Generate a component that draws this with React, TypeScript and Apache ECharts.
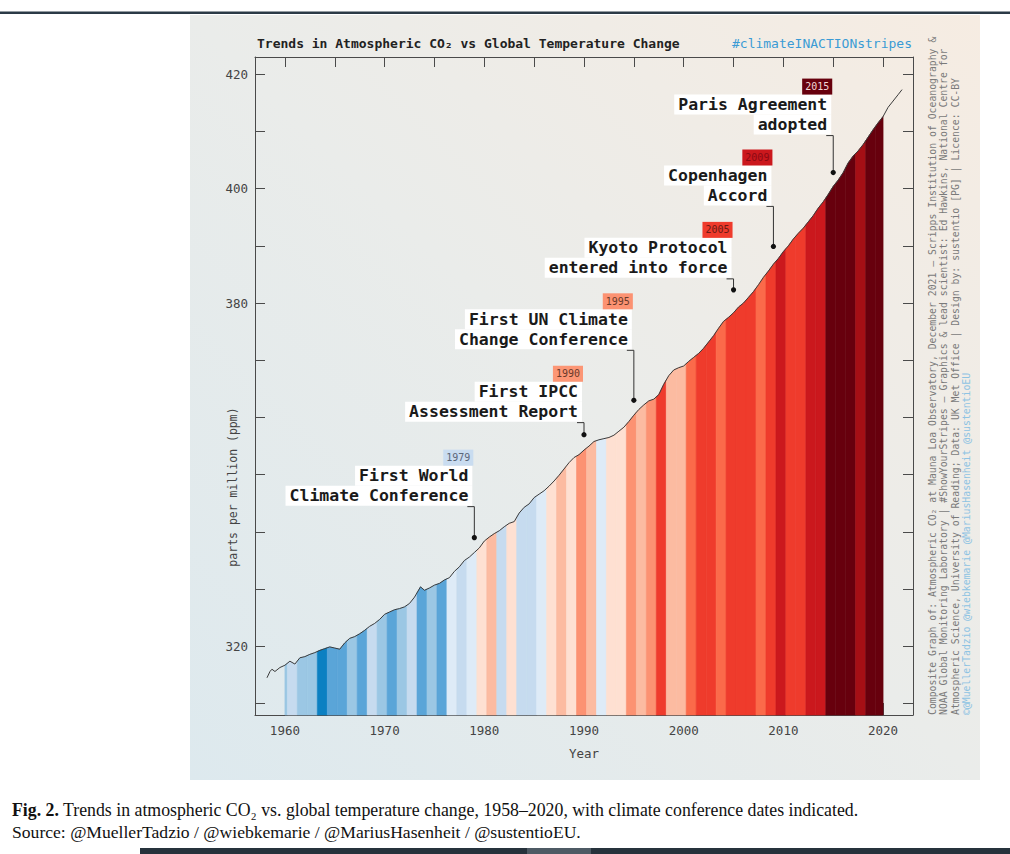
import React, { useEffect, useRef } from "react";
import * as echarts from "echarts";

// ---------- DATA ----------
const co2Time = [
  1958.2, 1958.5, 1958.7, 1959.0, 1959.5, 1960.0, 1960.5, 1961.0, 1961.5, 1962.0, 1962.5,
  1963.0, 1963.5, 1964.0, 1964.5, 1965.0, 1965.5, 1966.0, 1966.5, 1967.0, 1967.5, 1968.0,
  1968.5, 1969.0, 1969.5, 1970.0, 1970.5, 1971.0, 1971.5, 1972.0, 1972.5, 1973.0, 1973.6,
  1974.0, 1974.5, 1975.0, 1975.5, 1976.0, 1976.5, 1977.0, 1977.5, 1978.0, 1978.5, 1979.0,
  1979.5, 1980.0, 1980.5, 1981.0, 1981.5, 1982.0, 1982.5, 1983.0, 1983.5, 1984.0, 1984.5,
  1985.0, 1985.5, 1986.0, 1986.5, 1987.0, 1987.5, 1988.0, 1988.5, 1989.0, 1989.5, 1990.0,
  1990.5, 1991.0, 1991.5, 1992.0, 1992.5, 1993.0, 1993.5, 1994.0, 1994.5, 1995.0, 1995.5,
  1996.0, 1996.5, 1997.0, 1997.5, 1998.0, 1998.5, 1999.0, 1999.5, 2000.0, 2000.5, 2001.0,
  2001.5, 2002.0, 2002.5, 2003.0, 2003.5, 2004.0, 2004.5, 2005.0, 2005.5, 2006.0, 2006.5,
  2007.0, 2007.5, 2008.0, 2008.5, 2009.0, 2009.5, 2010.0, 2010.5, 2011.0, 2011.5, 2012.0,
  2012.5, 2013.0, 2013.5, 2014.0, 2014.5, 2015.0, 2015.5, 2016.0, 2016.5, 2017.0, 2017.5,
  2018.0, 2018.5, 2019.0, 2019.5, 2020.0, 2020.5, 2021.0, 2021.5, 2021.9,
];
const co2Ppm = [
  314.5, 315.6, 316.0, 315.6, 316.3, 316.7, 317.4, 316.9, 318.0, 318.2, 318.6,
  318.9, 319.3, 319.6, 319.9, 319.7, 319.5, 320.6, 321.4, 321.7, 322.2, 322.8,
  323.5, 324.0, 324.7, 325.6, 326.0, 326.4, 326.6, 326.9, 327.5, 328.6, 330.4,
  329.8, 330.2, 330.7, 331.0, 331.6, 332.0, 333.1, 333.9, 335.0, 335.6, 336.4,
  337.2, 338.4, 339.1, 339.7, 340.2, 340.9, 341.5, 341.8, 343.3, 344.3, 344.9,
  346.0, 346.6, 347.2, 348.0, 348.9, 349.9, 351.0, 352.1, 353.0, 353.5, 354.3,
  355.0, 355.8, 356.1, 356.3, 356.5, 356.9, 357.6, 358.3, 359.3, 360.4, 361.4,
  362.2, 362.9, 363.2, 364.0, 365.8, 367.3, 368.3, 368.7, 369.0, 369.8, 370.5,
  371.2, 372.1, 373.2, 374.3, 375.6, 376.8, 377.5, 378.3, 379.3, 380.0, 381.0,
  382.0, 383.2, 384.5, 385.6, 386.8, 387.8, 389.0, 390.0, 391.2, 392.2, 393.1,
  394.2, 395.3, 396.6, 397.7, 399.0, 400.4, 401.5, 402.8, 404.5, 405.7, 406.6,
  407.7, 409.0, 410.3, 411.5, 412.6, 414.2, 415.3, 416.4, 417.3,
];

const stripeYears = [
  1960, 1961, 1962, 1963, 1964, 1965, 1966, 1967, 1968, 1969,
  1970, 1971, 1972, 1973, 1974, 1975, 1976, 1977, 1978, 1979,
  1980, 1981, 1982, 1983, 1984, 1985, 1986, 1987, 1988, 1989,
  1990, 1991, 1992, 1993, 1994, 1995, 1996, 1997, 1998, 1999,
  2000, 2001, 2002, 2003, 2004, 2005, 2006, 2007, 2008, 2009,
  2010, 2011, 2012, 2013, 2014, 2015, 2016, 2017, 2018, 2019, 2020,
];
const stripeShade = [
  "B2", "B1", "B2", "B2", "B4", "B3", "B3", "B2", "B3", "B1",
  "B2", "B3", "B2", "B1", "B3", "B2", "B3", "B0", "B1", "B0",
  "R0", "R1", "B1", "R0", "B1", "B1", "B0", "R0", "R1", "R0",
  "R2", "R1", "B0", "R0", "R0", "R2", "R1", "R2", "R4", "R1",
  "R1", "R3", "R4", "R4", "R3", "R4", "R4", "R4", "R3", "R4",
  "R5", "R4", "R4", "R5", "R5", "R7", "R7", "R7", "R6", "R7", "R7",
];
const shadeColors: Record<string, string> = {
  B4: "#0b80c2", B3: "#5aa5d8", B2: "#9bc7e4", B1: "#c6dbef", B0: "#deebf7",
  R0: "#fee0d2", R1: "#fcbba1", R2: "#fc9272", R3: "#fb6a4a", R4: "#ef3b2c",
  R5: "#cb181d", R6: "#a50f15", R7: "#67000d",
};

const xMajorTicks = [1960, 1970, 1980, 1990, 2000, 2010, 2020];
const xMinorTicks = [1965, 1975, 1985, 1995, 2005, 2015];
const xTopTicks = [1960, 1965, 1970, 1975, 1980, 1985, 1990, 1995, 2000, 2005, 2010, 2015, 2020];
const yTicks = [310, 320, 330, 340, 350, 360, 370, 380, 390, 400, 410, 420];
const yLabels = [320, 380, 400, 420];

const eventYears = [1979, 1990, 1995, 2005, 2009, 2015];
const eventPpm = [339.0, 357.0, 363.0, 382.3, 389.9, 402.8];
const eventLine1 = ["First World", "First IPCC", "First UN Climate", "Kyoto Protocol", "Copenhagen", "Paris Agreement"];
const eventLine2 = ["Climate Conference", "Assessment Report", "Change Conference", "entered into force", "Accord", "adopted"];
const eventBoxColor = ["#c9dcf0", "#fc9675", "#fc9272", "#ef3b2c", "#cb181d", "#67000d"];
const eventYearTextColor = ["#5b6678", "#6a3a2a", "#6a3a2a", "#6a1a14", "#8a0a14", "#f2d6d6"];
// layout: leader length in px above the point
const eventLeaderPx = [31, 12, 50, 11, 40, 37];

const creditLines = [
  "Composite Graph of: Atmospheric CO\u2082 at Mauna Loa Observatory, December 2021 \u2013 Scripps Institution of Oceanography &",
  "NOAA Global Monitoring Laboratory | #ShowYourStripes \u2013 Graphics & lead scientist: Ed Hawkins, National Centre for",
  "Atmospheric Science, University of Reading; Data: UK Met Office | Design by: sustentio [PG] | Licence: CC-BY",
  "\u00a9@MuellerTadzio @wiebkemarie @MariusHasenheit @sustentioEU",
];

const X_MIN = 1957, X_MAX = 2023, Y_MIN = 308, Y_MAX = 423;
const FILL_START = 1960, FILL_END = 2020;
const MONO = '"DejaVu Sans Mono", monospace';

function curveAt(t: number): number {
  for (let i = 0; i < co2Time.length - 1; i++) {
    if (t >= co2Time[i] && t <= co2Time[i + 1]) {
      const f = (t - co2Time[i]) / (co2Time[i + 1] - co2Time[i]);
      return co2Ppm[i] + f * (co2Ppm[i + 1] - co2Ppm[i]);
    }
  }
  return co2Ppm[co2Ppm.length - 1];
}

export default function App() {
  const ref = useRef<HTMLDivElement>(null);
  useEffect(() => {
    if (!ref.current) return;
    const chart = echarts.init(ref.current, undefined, { renderer: "svg" });

    const axisColor = "#4a4a4a";
    const baseX = {
      type: "value", min: X_MIN, max: X_MAX, gridIndex: 0,
      splitLine: { show: false },
    };
    const baseY = {
      type: "value", min: Y_MIN, max: Y_MAX, gridIndex: 0,
      splitLine: { show: false },
    };
    const plain = (v: number) => String(v);

    const option: any = {
      animation: false,
      backgroundColor: "#ffffff",
      grid: { left: 255, top: 57, width: 658, height: 658, containLabel: false },
      xAxis: [
        {
          ...baseX, position: "bottom",
          axisLine: { show: true, lineStyle: { color: axisColor, width: 1 } },
          axisTick: { show: true, inside: true, length: 12, customValues: xMajorTicks, lineStyle: { color: axisColor } },
          axisLabel: { show: true, customValues: xMajorTicks, formatter: plain, margin: 9, fontFamily: MONO, fontSize: 12.5, color: "#444" },
        },
        {
          ...baseX, position: "bottom",
          axisLine: { show: false },
          axisTick: { show: true, inside: true, length: 6, customValues: xMinorTicks, lineStyle: { color: axisColor } },
          axisLabel: { show: false },
        },
        {
          ...baseX, position: "top",
          axisLine: { show: true, lineStyle: { color: axisColor, width: 1 } },
          axisTick: { show: true, inside: true, length: 10, customValues: xTopTicks, lineStyle: { color: axisColor } },
          axisLabel: { show: false },
        },
      ],
      yAxis: [
        {
          ...baseY, position: "left",
          axisLine: { show: true, lineStyle: { color: axisColor, width: 1 } },
          axisTick: { show: true, inside: true, length: 10, customValues: yTicks, lineStyle: { color: axisColor } },
          axisLabel: { show: true, customValues: yLabels, formatter: plain, margin: 7, fontFamily: MONO, fontSize: 12.5, color: "#444" },
        },
        {
          ...baseY, position: "right",
          axisLine: { show: true, lineStyle: { color: axisColor, width: 1 } },
          axisTick: { show: true, inside: true, length: 10, customValues: yTicks, lineStyle: { color: axisColor } },
          axisLabel: { show: false },
        },
      ],
      series: [
        {
          type: "custom",
          name: "stripes",
          xAxisIndex: 0, yAxisIndex: 0,
          z: 2,
          silent: true,
          data: stripeYears.map((y, i) => [y, i]),
          renderItem: (params: any, api: any) => {
            const i = params.dataIndex;
            const T = stripeYears[i];
            const a = Math.max(FILL_START, T - 0.75);
            const b = Math.min(FILL_END, T + 0.25);
            if (b <= a) return null;
            const pts: number[][] = [api.coord([a, Y_MIN]), api.coord([a, curveAt(a)])];
            for (let k = 0; k < co2Time.length; k++) {
              if (co2Time[k] > a && co2Time[k] < b) pts.push(api.coord([co2Time[k], co2Ppm[k]]));
            }
            pts.push(api.coord([b, curveAt(b)]));
            pts.push(api.coord([b, Y_MIN]));
            const c = shadeColors[stripeShade[i]];
            return { type: "polygon", shape: { points: pts }, style: { fill: c, stroke: c, lineWidth: 0.6 } };
          },
        },
        {
          type: "line",
          name: "CO2",
          xAxisIndex: 0, yAxisIndex: 0,
          z: 3,
          showSymbol: false,
          symbol: "none",
          lineStyle: { color: "#3a3a3a", width: 1 },
          data: co2Time.map((t, i) => [t, co2Ppm[i]]),
        },
        {
          type: "custom",
          name: "events",
          xAxisIndex: 0, yAxisIndex: 0,
          z: 5,
          silent: true,
          data: eventYears.map((y, i) => [y, eventPpm[i]]),
          renderItem: (params: any, api: any) => {
            const i = params.dataIndex;
            const p = api.coord([eventYears[i], eventPpm[i]]);
            const top = p[1] - eventLeaderPx[i];
            const right = p[0] - 2;
            const lineFont = { fontFamily: MONO, fontWeight: "bold", fontSize: 16.5 };
            return {
              type: "group",
              children: [
                {
                  type: "polyline",
                  shape: { points: [[p[0] - 7, top], [p[0], top], [p[0], p[1]]] },
                  style: { stroke: "#333", lineWidth: 1, fill: "none" },
                },
                { type: "circle", shape: { cx: p[0], cy: p[1], r: 2.6 }, style: { fill: "#111" } },
                {
                  type: "text",
                  style: {
                    text: eventLine2[i], x: right, y: top - 11, align: "right", verticalAlign: "middle",
                    ...lineFont, fill: "#1a1a1a", backgroundColor: "#ffffff", padding: [2, 4], lineHeight: 16,
                  },
                },
                {
                  type: "text",
                  style: {
                    text: eventLine1[i], x: right, y: top - 31, align: "right", verticalAlign: "middle",
                    ...lineFont, fill: "#1a1a1a", backgroundColor: "#ffffff", padding: [2, 4], lineHeight: 16,
                  },
                },
                {
                  type: "text",
                  style: {
                    text: String(eventYears[i]), x: p[0] - 1, y: top - 49, align: "right", verticalAlign: "middle",
                    fontFamily: MONO, fontSize: 10, lineHeight: 10, fill: eventYearTextColor[i],
                    backgroundColor: eventBoxColor[i], padding: [3, 3],
                  },
                },
              ],
            };
          },
        },
      ],
      graphic: [
        { type: "rect", z: -100, shape: { x: 0, y: 11.5, width: 1010, height: 2.5 }, style: { fill: "#2b3a46" } },
        {
          type: "rect", z: -90,
          shape: { x: 190, y: 15, width: 790, height: 765 },
          style: {
            fill: new echarts.graphic.LinearGradient(0, 1, 1, 0, [
              { offset: 0, color: "#dde9ee" },
              { offset: 0.5, color: "#eaecea" },
              { offset: 1, color: "#f6ece2" },
            ]),
          },
        },
        {
          type: "text", z: 10, x: 257, y: 43,
          style: {
            text: "Trends in Atmospheric CO\u2082 vs Global Temperature Change",
            font: `bold 13px ${MONO}`, fill: "#222", textAlign: "left", textVerticalAlign: "middle",
          },
        },
        {
          type: "text", z: 10, x: 912, y: 43,
          style: {
            text: "#climateINACTIONstripes",
            font: `13px ${MONO}`, fill: "#3a9bd5", textAlign: "right", textVerticalAlign: "middle",
          },
        },
        {
          type: "text", z: 10, x: 233, y: 487, rotation: Math.PI / 2,
          style: {
            text: "parts per million (ppm)",
            font: `11.5px ${MONO}`, fill: "#444", textAlign: "center", textVerticalAlign: "middle",
          },
        },
        {
          type: "text", z: 10, x: 584, y: 753,
          style: {
            text: "Year", font: `12.5px ${MONO}`, fill: "#444", textAlign: "center", textVerticalAlign: "middle",
          },
        },
        ...creditLines.map((t, i) => ({
          type: "text", z: 10, x: 932 + i * 11.5, y: 715, rotation: Math.PI / 2,
          style: {
            text: t, font: `9.8px ${MONO}`, fill: i === 3 ? "#8ec3e3" : "#7a7a7a",
            textAlign: "left", textVerticalAlign: "middle",
          },
        })),
        {
          type: "text", z: 10, x: 12, y: 810,
          style: {
            text: "{b|Fig. 2.} Trends in atmospheric CO\u2082 vs. global temperature change, 1958\u20132020, with climate conference dates indicated.",
            font: '17.8px "Liberation Serif", serif', fill: "#111", textAlign: "left", textVerticalAlign: "middle",
            rich: { b: { fontWeight: "bold", fontSize: 17.8, fontFamily: '"Liberation Serif", serif' } },
          },
        },
        {
          type: "text", z: 10, x: 12, y: 832,
          style: {
            text: "Source: @MuellerTadzio / @wiebkemarie / @MariusHasenheit / @sustentioEU.",
            font: '17.6px "Liberation Serif", serif', fill: "#111", textAlign: "left", textVerticalAlign: "middle",
          },
        },
        { type: "rect", z: -100, shape: { x: 140, y: 848, width: 387, height: 6 }, style: { fill: "#26323c" } },
        { type: "rect", z: -100, shape: { x: 527, y: 848, width: 64, height: 6 }, style: { fill: "#4e5a64" } },
        { type: "rect", z: -100, shape: { x: 591, y: 848, width: 419, height: 6 }, style: { fill: "#26323c" } },
      ],
    };

    chart.setOption(option);
    return () => chart.dispose();
  }, []);

  return <div ref={ref} style={{ position: "absolute", left: 0, top: 0, width: 1010, height: 854 }} />;
}
